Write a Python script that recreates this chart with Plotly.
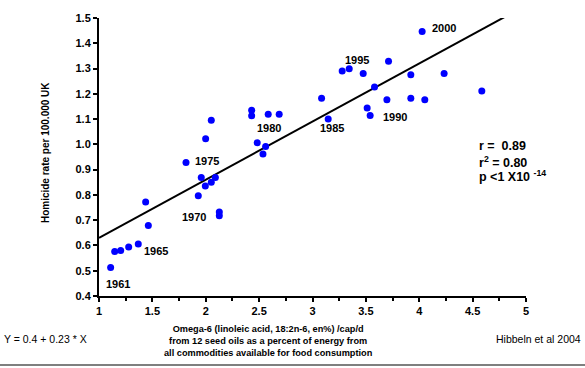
import plotly.graph_objects as go

# Omega-6 intake (en%) and homicide rate per 100,000 (UK, 1961-2000)
omega6 = [1.109, 1.147, 1.203, 1.278, 1.368, 1.437, 1.462, 1.815, 1.930, 1.958,
          1.996, 2.052, 2.090, 2.127, 2.127, 1.999, 2.052, 2.430, 2.430, 2.482,
          2.536, 2.561, 2.585, 2.688, 3.085, 3.147, 3.278, 3.344, 3.475, 3.512,
          3.540, 3.581, 3.697, 3.712, 3.921, 3.921, 4.027, 4.052, 4.233, 4.586]
homicide = [0.513, 0.576, 0.580, 0.594, 0.606, 0.772, 0.679, 0.928, 0.797, 0.869,
            0.835, 0.850, 0.869, 0.732, 0.718, 1.022, 1.095, 1.135, 1.113, 1.006,
            0.962, 0.992, 1.119, 1.119, 1.182, 1.100, 1.290, 1.299, 1.280, 1.144,
            1.114, 1.227, 1.177, 1.329, 1.275, 1.182, 1.447, 1.177, 1.280, 1.211]

# Regression Y = 0.4 + 0.23 * X
intercept = 0.4
slope = 0.23
fit_x = [1.0, 4.8]

year_labels = ["1961", "1965", "1970", "1975", "1980", "1985", "1990", "1995", "2000"]
year_x = [1.178, 1.534, 1.890, 2.016, 2.596, 3.179, 3.772, 3.416, 4.235]
year_y = [0.447, 0.580, 0.711, 0.934, 1.065, 1.064, 1.107, 1.332, 1.461]

x_ticks = [1, 1.5, 2, 2.5, 3, 3.5, 4, 4.5, 5]
y_ticks = [0.4, 0.5, 0.6, 0.7, 0.8, 0.9, 1.0, 1.1, 1.2, 1.3, 1.4, 1.5]

FONT = "Liberation Sans, Arial, sans-serif"

fig = go.Figure()
fig.add_trace(go.Scatter(
    x=fit_x, y=[intercept + slope * v for v in fit_x],
    mode="lines", line=dict(color="black", width=2), hoverinfo="skip",
    showlegend=False))
fig.add_trace(go.Scatter(
    x=omega6, y=homicide, mode="markers",
    marker=dict(color="#0000FF", size=7, line=dict(width=0)),
    showlegend=False, cliponaxis=False))

annotations = []
for t, xx, yy in zip(year_labels, year_x, year_y):
    annotations.append(dict(x=xx, y=yy, xref="x", yref="y", text=t, showarrow=False,
                            font=dict(family=FONT, size=11, color="black", weight="bold"),
                            xanchor="center", yanchor="middle"))

stats = ["r =&nbsp; 0.89", "r<sup>2</sup> = 0.80", "p <1 X10 <sup>-14</sup>"]
stats_y = [0.992, 0.931, 0.873]
for t, yy in zip(stats, stats_y):
    annotations.append(dict(x=4.537, y=yy, xref="x", yref="y", text=t, showarrow=False,
                            font=dict(family=FONT, size=12.5, color="black", weight="bold"),
                            xanchor="left", yanchor="middle"))

# Axis titles and notes (plot area: 427 x 284 px, left 99, top 12)
annotations.append(dict(
    x=(268 - 99) / 427, y=(296 - 342) / 284, xref="paper", yref="paper",
    text="Omega-6 (linoleic acid, 18:2n-6, en%) /cap/d<br>from 12 seed oils as a percent of energy from<br>all commodities available for food consumption",
    showarrow=False, align="center", xanchor="center", yanchor="middle",
    font=dict(family=FONT, size=9.2, color="black", weight="bold")))
annotations.append(dict(
    x=(45 - 99) / 427, y=(296 - 150) / 284, xref="paper", yref="paper",
    text="Homicide rate per 100.000 UK", textangle=-90, showarrow=False,
    xanchor="center", yanchor="middle",
    font=dict(family=FONT, size=10, color="black", weight="bold")))
annotations.append(dict(
    x=(2 - 99) / 427, y=(296 - 340) / 284, xref="paper", yref="paper",
    text="Y = 0.4 + 0.23 * X", showarrow=False, xanchor="left", yanchor="middle",
    font=dict(family=FONT, size=10.5, color="black")))
annotations.append(dict(
    x=(583 - 99) / 427, y=(296 - 340) / 284, xref="paper", yref="paper",
    text="Hibbeln et al 2004", showarrow=False, xanchor="right", yanchor="middle",
    font=dict(family=FONT, size=10.5, color="black")))

fig.update_layout(
    width=585, height=368,
    margin=dict(l=99, r=59, t=12, b=72),
    paper_bgcolor="white", plot_bgcolor="white",
    annotations=annotations,
    shapes=[dict(type="line", xref="paper", yref="paper",
                 x0=-99 / 427, x1=486 / 427, y0=(296 - 366.5) / 284, y1=(296 - 366.5) / 284,
                 line=dict(color="#555555", width=1.5))],
    xaxis=dict(range=[1, 5], tickvals=x_ticks, ticktext=[str(v) for v in x_ticks],
               showgrid=False, zeroline=False, showline=True, linecolor="black",
               linewidth=2, ticks="outside", ticklen=4, tickwidth=1.5, tickcolor="black",
               minor=dict(dtick=0.25, tick0=1, ticks="outside", ticklen=3, tickwidth=1.5,
                          tickcolor="black", showgrid=False),
               tickfont=dict(family=FONT, size=11, color="black", weight="bold")),
    yaxis=dict(range=[0.4, 1.5], tickvals=y_ticks, tickformat=".1f",
               showgrid=False, zeroline=False, showline=True, linecolor="black",
               linewidth=2, ticks="outside", ticklen=4, tickwidth=1.5, tickcolor="black",
               tickfont=dict(family=FONT, size=11, color="black", weight="bold")),
)

fig.write_html("out.html", config={"displayModeBar": False},
               post_script="document.body.style.margin='0px';document.body.style.overflow='hidden';")
